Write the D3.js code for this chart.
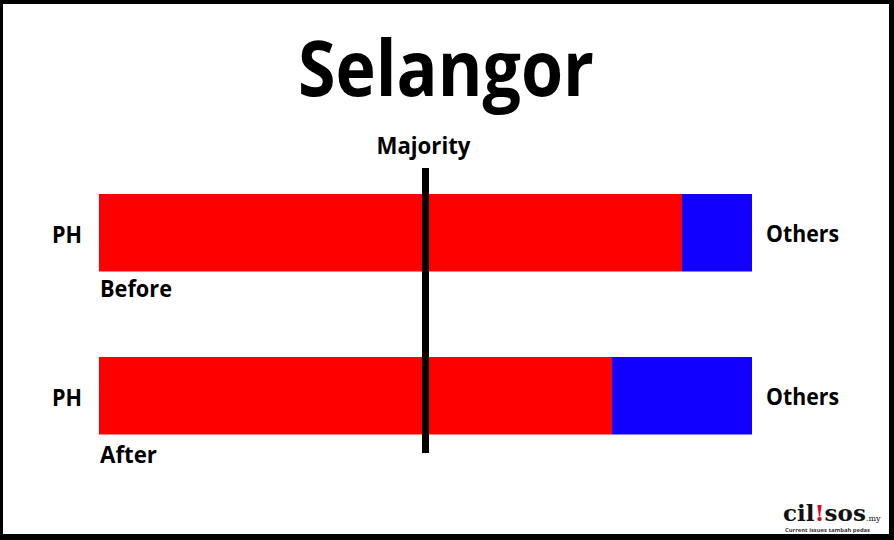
<!DOCTYPE html>
<html><head><meta charset="utf-8">
<script src="https://cdn.jsdelivr.net/npm/d3@7"></script>
<style>html,body{margin:0;padding:0;background:#fff;}svg{display:block;}</style>
</head><body>
<script>
const title = "Selangor";
const categories = ["Before", "After"];
const phSeats = [50, 44];
const otherSeats = [6, 12];
const totalSeats = 56;
const majorityMark = 28;
const leftLabel = "PH";
const rightLabel = "Others";
const majorityLabel = "Majority";

const W = 894, H = 540;
const svg = d3.select("body").append("svg").attr("width", W).attr("height", H);
svg.append("rect").attr("width", W).attr("height", H).attr("fill", "#fff");

const x = d3.scaleLinear().domain([0, totalSeats]).range([99, 752]);
const y = d3.scaleBand().domain(categories).range([194, 434.5]).paddingInner(0.5245).paddingOuter(0);

const font = "'Open Sans', sans-serif";

const rows = categories.map((c, i) => ({cat: c, i: i, ph: phSeats[i], oth: otherSeats[i]}));

const g = svg.selectAll("g.row").data(rows).join("g").attr("class", "row");
g.append("rect").attr("x", d => x(0)).attr("y", d => y(d.cat))
  .attr("width", d => x(d.ph) - x(0)).attr("height", y.bandwidth()).attr("fill", "#ff0000");
g.append("rect").attr("x", d => x(d.ph)).attr("y", d => y(d.cat))
  .attr("width", d => x(d.ph + d.oth) - x(d.ph)).attr("height", y.bandwidth()).attr("fill", "#1100ff");

g.append("text").text(leftLabel).attr("x", 82).attr("y", d => y(d.cat) + y.bandwidth()/2 + 10)
  .attr("text-anchor", "end").attr("font-family", font).attr("font-weight", 700).attr("font-size", 24)
  .attr("textLength", 30).attr("lengthAdjust", "spacingAndGlyphs").attr("fill", "#000");
g.append("text").text(rightLabel).attr("x", 766).attr("y", d => y(d.cat) + y.bandwidth()/2 + 9.5)
  .attr("font-family", font).attr("font-weight", 700).attr("font-size", 24)
  .attr("textLength", 73).attr("lengthAdjust", "spacingAndGlyphs").attr("fill", "#000");
g.append("text").text(d => d.cat).attr("x", 100).attr("y", d => y(d.cat) + y.bandwidth() + (d.i === 0 ? 25 : 28))
  .attr("font-family", font).attr("font-weight", 700).attr("font-size", 24)
  .attr("textLength", d => d.i === 0 ? 72 : 57).attr("lengthAdjust", "spacingAndGlyphs").attr("fill", "#000");

// majority line
svg.append("line").attr("x1", x(majorityMark)).attr("x2", x(majorityMark))
  .attr("y1", 168).attr("y2", 453).attr("stroke", "#000").attr("stroke-width", 7);
svg.append("text").text(majorityLabel).attr("x", x(majorityMark) - 2).attr("y", 154)
  .attr("text-anchor", "middle").attr("font-family", font).attr("font-weight", 700).attr("font-size", 24)
  .attr("textLength", 94).attr("lengthAdjust", "spacingAndGlyphs").attr("fill", "#000");

// title
svg.append("text").text(title).attr("x", 446).attr("y", 95.5)
  .attr("text-anchor", "middle").attr("font-family", font).attr("font-weight", 700).attr("font-size", 77)
  .attr("textLength", 296).attr("lengthAdjust", "spacingAndGlyphs").attr("fill", "#000");

// logo
const logo = svg.append("text").attr("x", 783).attr("y", 521)
  .attr("font-family", "'DejaVu Serif', serif").attr("font-weight", 700).attr("font-size", 23).attr("fill", "#111");
logo.append("tspan").text("cil");
logo.append("tspan").text("!").attr("fill", "#e3001b");
logo.append("tspan").text("sos");
logo.append("tspan").text(".my").attr("font-size", 8).attr("font-weight", 400);
svg.append("text").text("Current issues tambah pedas").attr("x", 785).attr("y", 532)
  .attr("font-family", font).attr("font-weight", 700).attr("font-size", 5.5)
  .attr("textLength", 85).attr("lengthAdjust", "spacingAndGlyphs").attr("fill", "#333");

// border
svg.append("path").attr("fill", "#000").attr("fill-rule", "evenodd")
  .attr("d", `M0,0H${W}V${H}H0Z M3,4H889V534H3Z`);
</script>
</body></html>
